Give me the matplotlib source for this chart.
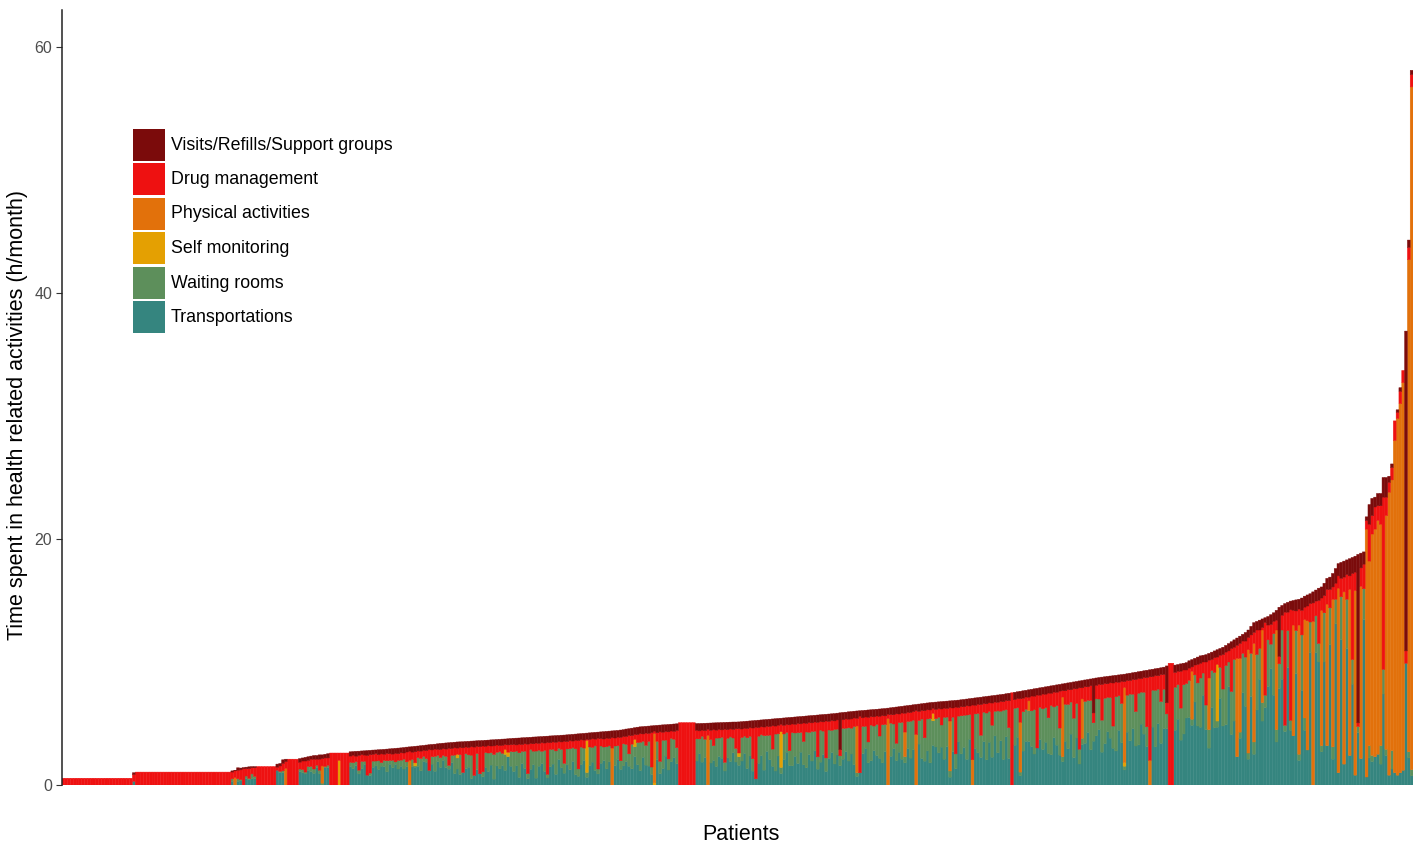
import matplotlib
matplotlib.use("Agg")
import matplotlib.pyplot as plt
from matplotlib.patches import Rectangle
import numpy as np

plt.rcParams['font.family'] = ['Liberation Sans', 'DejaVu Sans']

# one bar per patient, patients sorted by total time (h/month)
bar_total = [
    0.55, 0.55, 0.55, 0.55, 0.55, 0.55, 0.55, 0.55, 0.55, 0.55, 0.55, 0.55, 0.55, 0.55, 0.55, 0.55, 0.55, 0.55, 0.55, 0.55,
    0.55, 0.55, 0.55, 0.55, 0.55, 1.0, 1.05, 1.05, 1.05, 1.05, 1.05, 1.05, 1.05, 1.05, 1.05, 1.05, 1.05, 1.05, 1.05, 1.05,
    1.05, 1.05, 1.05, 1.05, 1.05, 1.05, 1.05, 1.05, 1.05, 1.05, 1.05, 1.05, 1.05, 1.05, 1.05, 1.05, 1.05, 1.05, 1.05, 1.05,
    1.15, 1.2, 1.4, 1.38, 1.42, 1.45, 1.48, 1.5, 1.5, 1.5, 1.5, 1.5, 1.5, 1.5, 1.5, 1.5, 1.7, 1.75, 2.05, 2.1,
    2.1, 2.1, 2.1, 2.1, 2.15, 2.2, 2.25, 2.3, 2.35, 2.4, 2.4, 2.45, 2.45, 2.5, 2.55, 2.6, 2.6, 2.6, 2.6, 2.6,
    2.6, 2.6, 2.7, 2.72, 2.74, 2.75, 2.77, 2.78, 2.8, 2.82, 2.84, 2.85, 2.87, 2.88, 2.9, 2.92, 2.94, 2.96, 2.98, 3.0,
    3.02, 3.05, 3.08, 3.1, 3.12, 3.15, 3.17, 3.2, 3.22, 3.25, 3.28, 3.3, 3.32, 3.35, 3.38, 3.4, 3.42, 3.44, 3.46, 3.48,
    3.5, 3.51, 3.52, 3.54, 3.55, 3.57, 3.58, 3.6, 3.61, 3.62, 3.64, 3.65, 3.67, 3.68, 3.7, 3.71, 3.73, 3.74, 3.76, 3.78,
    3.8, 3.81, 3.82, 3.84, 3.85, 3.87, 3.88, 3.9, 3.91, 3.93, 3.94, 3.96, 3.97, 3.99, 4.0, 4.02, 4.03, 4.05, 4.06, 4.08,
    4.1, 4.12, 4.14, 4.16, 4.18, 4.2, 4.22, 4.24, 4.26, 4.28, 4.3, 4.32, 4.34, 4.36, 4.38, 4.4, 4.42, 4.44, 4.47, 4.5,
    4.55, 4.58, 4.62, 4.66, 4.7, 4.73, 4.75, 4.77, 4.79, 4.81, 4.83, 4.85, 4.87, 4.89, 4.9, 4.92, 4.94, 4.96, 4.98, 5.07,
    5.07, 5.07, 5.07, 5.07, 5.07, 5.0, 5.0, 5.01, 5.02, 5.03, 5.04, 5.05, 5.06, 5.07, 5.08, 5.09, 5.1, 5.11, 5.12, 5.12,
    5.13, 5.15, 5.17, 5.19, 5.21, 5.23, 5.25, 5.27, 5.29, 5.31, 5.33, 5.35, 5.37, 5.39, 5.41, 5.43, 5.45, 5.47, 5.49, 5.51,
    5.53, 5.55, 5.57, 5.59, 5.61, 5.63, 5.65, 5.67, 5.69, 5.71, 5.73, 5.75, 5.77, 5.79, 5.81, 5.84, 5.87, 5.9, 5.92, 5.95,
    5.97, 6.0, 6.02, 6.04, 6.06, 6.08, 6.1, 6.12, 6.14, 6.16, 6.18, 6.2, 6.22, 6.25, 6.28, 6.31, 6.34, 6.37, 6.4, 6.43,
    6.46, 6.49, 6.52, 6.55, 6.58, 6.61, 6.64, 6.67, 6.7, 6.72, 6.74, 6.76, 6.78, 6.8, 6.82, 6.84, 6.86, 6.88, 6.9, 6.93,
    6.96, 6.99, 7.02, 7.05, 7.08, 7.11, 7.14, 7.17, 7.2, 7.23, 7.26, 7.29, 7.32, 7.35, 7.38, 7.42, 7.46, 7.5, 7.54, 7.58,
    7.62, 7.66, 7.7, 7.74, 7.78, 7.82, 7.86, 7.9, 7.94, 7.98, 8.02, 8.06, 8.1, 8.14, 8.18, 8.22, 8.26, 8.3, 8.34, 8.38,
    8.42, 8.46, 8.5, 8.54, 8.58, 8.62, 8.66, 8.7, 8.74, 8.77, 8.8, 8.83, 8.86, 8.89, 8.92, 8.95, 8.98, 9.01, 9.05, 9.09,
    9.13, 9.17, 9.21, 9.25, 9.29, 9.33, 9.37, 9.41, 9.45, 9.49, 9.53, 9.58, 9.68, 9.9, 9.9, 9.75, 9.8, 9.85, 9.9, 9.95,
    10.1, 10.2, 10.3, 10.4, 10.5, 10.55, 10.6, 10.7, 10.8, 10.9, 11.0, 11.1, 11.2, 11.35, 11.5, 11.65, 11.8, 11.95, 12.1, 12.25,
    12.4, 12.6, 12.9, 13.2, 13.3, 13.4, 13.5, 13.6, 13.7, 13.85, 14.0, 14.2, 14.45, 14.6, 14.75, 14.85, 14.95, 15.0, 15.05, 15.1,
    15.2, 15.35, 15.45, 15.55, 15.7, 15.85, 16.0, 16.1, 16.4, 16.8, 16.9, 17.2, 17.6, 18.0, 18.1, 18.2, 18.3, 18.4, 18.5, 18.6,
    18.75, 18.85, 18.95, 21.8, 22.8, 23.3, 23.4, 23.7, 23.7, 25.0, 25.0, 25.1, 26.1, 29.6, 30.5, 32.3, 33.7, 36.9, 44.3, 58.1,
]

visits = [
    0, 0, 0, 0, 0, 0, 0, 0, 0, 0, 0, 0, 0, 0, 0, 0, 0, 0, 0, 0,
    0, 0, 0, 0, 0, 0.15, 0, 0, 0, 0, 0, 0, 0, 0, 0, 0, 0, 0, 0, 0,
    0, 0, 0, 0, 0, 0, 0, 0, 0, 0, 0, 0, 0, 0, 0, 0, 0, 0, 0, 0,
    0.1, 0.05, 0.2, 0.15, 0.1, 0.12, 0.15, 0.1, 0.1, 0, 0, 0, 0, 0, 0, 0, 0.25, 0.2, 0.3, 0.2,
    0, 0, 0, 0, 0.3, 0.25, 0.3, 0.3, 0.25, 0.3, 0.3, 0.35, 0.3, 0.3, 0.35, 0, 0, 0, 0, 0,
    0, 0, 0.35, 0.3, 0.4, 0.35, 0.3, 0.35, 0.4, 0.35, 0.35, 0.3, 0.4, 0.35, 0.4, 0.35, 0.4, 0.45, 0.4, 0.45,
    0.4, 0.45, 0.4, 0.35, 0.45, 0.45, 0.4, 0.45, 0.4, 0.45, 0.4, 0.45, 0.4, 0.45, 0.5, 0.45, 0.5, 0.45, 0.5, 0.45,
    0.5, 0.45, 0.5, 0.45, 0.5, 0.45, 0.5, 0.45, 0.5, 0.45, 0.5, 0.45, 0.5, 0.5, 0.45, 0.5, 0.5, 0.45, 0.5, 0.5,
    0.5, 0.55, 0.5, 0.55, 0.5, 0.55, 0.5, 0.55, 0.5, 0.55, 0.5, 0.55, 0.5, 0.55, 0.5, 0.55, 0.5, 0.55, 0.5, 0.55,
    0.5, 0.55, 0.5, 0.55, 0.5, 0.55, 0.5, 0.55, 0.5, 0.55, 0.5, 0.55, 0.6, 0.55, 0.6, 0.55, 0.6, 0.55, 0.6, 0.55,
    0.6, 0.55, 0.6, 0.55, 0.6, 0.55, 0.6, 0.55, 0.6, 0.55, 0.45, 0.6, 0.55, 0.6, 0.55, 0.6, 0.55, 0.6, 0.55, 0,
    0, 0, 0, 0, 0, 0.55, 0.6, 0.55, 0.6, 0.5, 0.6, 0.55, 0.6, 0.55, 0.6, 0.55, 0.6, 0.55, 0.6, 0.55,
    0.55, 0.6, 0.55, 0.6, 0.55, 0.6, 0.55, 0.6, 0.55, 0.6, 0.55, 0.6, 0.55, 0.6, 0.55, 0.5, 0.6, 0.55, 0.6, 0.55,
    0.6, 0.55, 0.6, 0.55, 0.6, 0.55, 0.6, 0.55, 0.6, 0.55, 0.6, 0.55, 0.6, 0.55, 0.6, 0.55, 3.0, 0.6, 0.55, 0.6,
    0.6, 0.55, 0.6, 0.45, 0.6, 0.55, 0.6, 0.55, 0.6, 0.55, 0.6, 0.55, 0.6, 0.5, 0.55, 0.6, 0.55, 0.6, 0.55, 0.6,
    0.55, 0.6, 0.55, 0.5, 0.6, 0.55, 0.6, 0.55, 0.6, 0.5, 0.6, 0.55, 0.6, 0.55, 0.6, 0.55, 0.6, 0.55, 0.6, 0.55,
    0.6, 0.55, 0.6, 0.55, 0.6, 0.55, 0.6, 0.55, 0.6, 0.55, 0.6, 0.55, 0.6, 0.55, 0.6, 0.55, 0.6, 0, 0.6, 0.55,
    0.6, 0.6, 0.55, 0.6, 0.55, 0.6, 0.55, 0.6, 0.55, 0.6, 0.55, 0.6, 0.55, 0.6, 0.55, 0.55, 0.6, 0.55, 0.6, 0.55,
    0.6, 0.55, 0.6, 0.55, 0.6, 0.55, 2.8, 0.6, 0.55, 0.6, 0.55, 0.6, 0.55, 0.6, 0.55, 0.6, 0.55, 0.6, 0.55, 0.6,
    0.55, 0.6, 0.55, 0.6, 0.55, 0.6, 0.57, 0.6, 0.55, 0.6, 0.55, 0.6, 3.0, 0, 0, 0.6, 0.55, 0.6, 0.55, 0.6,
    0.6, 0.6, 0.55, 0.6, 0.6, 0.55, 0.6, 0.55, 0.6, 0.55, 0.6, 0.55, 0.6, 0.55, 0.6, 0.55, 0.6, 0.6, 0.6, 0.55,
    0.7, 0.6, 0.7, 0.8, 0.7, 0.8, 0.7, 0.4, 0.7, 0.8, 0.7, 0.8, 4.0, 0.8, 0.7, 0.8, 0.7, 0.8, 0.9, 0.8,
    1.0, 0.9, 0.9, 0.8, 0.9, 0.9, 1.0, 0.9, 1.0, 0.9, 1.0, 1.1, 1.2, 1.0, 1.3, 1.3, 1.2, 1.4, 1.3, 1.3,
    13.7, 1.2, 1.0, 0.3, 1.6, 1.4, 0.8, 1.0, 1.0, 1.6, 1.6, 0.5, 0.3, 0, 0.2, 0.3, 0, 26.0, 0.6, 0.35,
]

drug = [
    0.55, 0.55, 0.55, 0.55, 0.55, 0.55, 0.55, 0.55, 0.55, 0.55, 0.55, 0.55, 0.55, 0.55, 0.55, 0.55, 0.55, 0.55, 0.55, 0.55,
    0.55, 0.55, 0.55, 0.55, 0.55, 0.55, 1.05, 1.05, 1.05, 1.05, 1.05, 1.05, 1.05, 1.05, 1.05, 1.05, 1.05, 1.05, 1.05, 1.05,
    1.05, 1.05, 1.05, 1.05, 1.05, 1.05, 1.05, 1.05, 1.05, 1.05, 1.05, 1.05, 1.05, 1.05, 1.05, 1.05, 1.05, 1.05, 1.05, 1.05,
    0.55, 0.55, 0.7, 0.8, 1.32, 0.6, 0.8, 0.5, 0.7, 1.5, 1.5, 1.5, 1.5, 1.5, 1.5, 1.5, 0.25, 0.45, 0.6, 0.55,
    2.1, 2.1, 2.1, 2.1, 0.55, 0.7, 0.9, 0.5, 0.6, 0.8, 0.5, 0.9, 0.6, 0.7, 0.6, 2.6, 2.6, 2.6, 0.6, 2.6,
    2.6, 2.6, 0.5, 0.6, 0.45, 1.2, 0.55, 0.5, 1.6, 1.5, 0.55, 0.6, 0.5, 0.7, 0.5, 0.6, 0.55, 0.5, 0.7, 0.55,
    0.6, 0.5, 0.8, 0.75, 0.6, 0.9, 0.55, 0.6, 0.5, 0.65, 1.7, 0.55, 0.6, 0.5, 0.65, 0.55, 0.6, 1.4, 0.55, 0.6,
    0.5, 0.6, 2.0, 0.55, 0.6, 0.7, 2.3, 0.6, 2.2, 2.1, 0.5, 0.6, 0.55, 0.7, 0.6, 0.5, 0.65, 0.4, 0.6, 0.55,
    0.6, 0.5, 0.7, 0.55, 0.6, 2.4, 0.5, 0.6, 0.65, 0.55, 0.7, 0.6, 2.6, 0.55, 0.6, 0.7, 0.55, 0.6, 1.8, 0.6,
    0.65, 0.55, 0.7, 2.3, 0.6, 0.65, 0.1, 0.6, 0.7, 0.55, 2.5, 0.6, 0.65, 0.7, 0.6, 0.85, 0.65, 0.7, 1.9, 0.6,
    0.65, 1.5, 0.7, 0.4, 0.65, 0.7, 0.6, 1.0, 0.65, 2.8, 0.2, 0.7, 2.4, 0.65, 0.7, 2.2, 0.6, 0.65, 1.4, 5.07,
    5.07, 5.07, 5.07, 5.07, 5.07, 0.7, 0.65, 0.5, 0.7, 0.5, 0.75, 1.3, 0.65, 0.7, 0.6, 2.7, 0.7, 0.65, 0.7, 1.6,
    1.98, 0.7, 0.65, 0.75, 0.7, 2.5, 4.2, 0.7, 0.65, 0.7, 0.75, 0.7, 1.9, 0.65, 0.7, 0.6, 0.7, 0.65, 2.1, 0.7,
    0.7, 0.75, 0.7, 1.5, 0.7, 0.8, 0.7, 0.75, 2.8, 0.7, 0.75, 3.0, 0.7, 0.8, 0.7, 0.75, 0.5, 0.7, 0.75, 0.7,
    0.75, 0.7, 0.62, 4.6, 0.7, 0.75, 2.0, 0.7, 0.75, 0.7, 1.6, 0.75, 0.7, 0.35, 0.7, 0.75, 2.4, 0.7, 0.75, 1.53,
    0.75, 0.7, 0.7, 1.95, 0.75, 0.7, 2.2, 0.75, 0.7, 0.4, 0.75, 0.7, 1.3, 0.75, 0.7, 1.09, 0.75, 3.8, 0.7, 0.75,
    0.7, 0.75, 0.7, 4.45, 0.7, 0.75, 2.5, 0.7, 0.75, 0.7, 1.8, 0.75, 0.7, 0.8, 0.7, 0.75, 2.2, 7.5, 0.7, 0.75,
    1.92, 1.1, 1.0, 0.3, 1.2, 1.1, 4.3, 1.0, 1.2, 1.1, 2.0, 1.0, 1.2, 1.1, 3.0, 0.52, 1.1, 1.2, 1.0, 2.4,
    1.2, 5.0, 0.9, 1.2, 1.1, 1.2, 0.8, 1.1, 1.2, 2.9, 1.2, 1.1, 1.2, 3.5, 1.2, 1.1, 1.8, 0.48, 1.2, 1.1,
    1.2, 2.6, 1.2, 1.1, 1.2, 4.0, 6.8, 1.1, 1.2, 1.1, 2.2, 1.2, 0.9, 9.9, 9.9, 1.2, 1.1, 3.0, 1.2, 1.1,
    1.0, 0.35, 0.8, 1.5, 1.2, 0.9, 3.5, 1.45, 0.9, 1.2, 0.6, 1.0, 2.8, 1.1, 0.9, 3.5, 1.0, 1.05, 1.2, 1.0,
    1.3, 1.0, 1.5, 0.9, 2.0, 1.5, 0.2, 5.9, 1.2, 1.6, 1.0, 0.8, 0.6, 1.2, 9.2, 1.5, 9.0, 1.2, 1.6, 1.3,
    2.0, 1.0, 1.2, 1.5, 1.5, 1.2, 3.5, 1.0, 1.4, 1.2, 1.5, 1.0, 1.3, 1.0, 1.5, 1.2, 2.0, 1.1, 7.0, 1.5,
    0.3, 1.5, 2.0, 0.7, 3.0, 1.5, 1.8, 1.2, 1.5, 14.0, 1.5, 0.8, 1.0, 1.6, 0.5, 1.0, 1.0, 1.0, 1.0, 1.0,
]

physical = [
    0, 0, 0, 0, 0, 0, 0, 0, 0, 0, 0, 0, 0, 0, 0, 0, 0, 0, 0, 0,
    0, 0, 0, 0, 0, 0, 0, 0, 0, 0, 0, 0, 0, 0, 0, 0, 0, 0, 0, 0,
    0, 0, 0, 0, 0, 0, 0, 0, 0, 0, 0, 0, 0, 0, 0, 0, 0, 0, 0, 0,
    0, 0.6, 0, 0, 0, 0, 0, 0, 0, 0, 0, 0, 0, 0, 0, 0, 0, 0, 0, 1.35,
    0, 0, 0, 0, 0, 0, 0, 0, 0, 0, 0, 0, 1.4, 0, 0, 0, 0, 0, 0, 0,
    0, 0, 0, 0, 0, 0, 0, 0, 0, 0, 0, 0, 0, 0, 0, 0, 0, 0, 0, 0,
    0, 0, 0, 2.0, 0, 0, 0, 0, 0, 0, 0, 0, 0, 0, 0, 0, 0, 0, 0, 0,
    0, 0, 0, 0, 0, 0, 0, 0, 0, 0, 0, 0, 0, 0, 0, 0, 0, 0, 0, 0,
    0, 0, 0, 0, 0, 0, 0, 0, 0, 0, 0, 0, 0, 0, 0, 0, 0, 0, 0, 0,
    0, 0, 0, 0, 0, 0, 0, 0, 0, 0, 0, 0, 0, 0, 0, 3.0, 0, 0, 0, 0,
    0, 0, 0, 0, 0, 0, 0, 0, 0, 0, 4.0, 0, 0, 0, 0, 0, 0, 0, 0, 0,
    0, 0, 0, 0, 0, 0, 0, 0, 0, 4.02, 0, 0, 0, 0, 0, 0, 0, 0, 0, 0,
    0, 0, 0, 0, 0, 0, 0, 0, 0, 0, 0, 0, 0, 0, 0, 0, 0, 0, 0, 0,
    0, 0, 0, 0, 0, 0, 0, 0, 0, 0, 0, 0, 0, 0, 0, 0, 0, 0, 0, 0,
    0, 0, 3.8, 0, 0, 0, 0, 0, 0, 0, 0, 0, 0, 5.4, 0, 0, 0, 0, 0, 2.0,
    0, 0, 0, 4.1, 0, 0, 0, 0, 0, 0, 0, 0, 0, 0, 0, 4.06, 0, 0, 0, 0,
    0, 0, 0, 2.05, 0, 0, 0, 0, 0, 0, 0, 0, 0, 0, 0, 0, 0, 0, 0, 0,
    4.05, 0, 0, 0.8, 0, 0, 0, 0, 0, 0, 0, 0, 0, 0, 0, 4.85, 0, 0, 0, 0,
    0, 0, 3.2, 0, 0, 0, 0, 0, 0, 0, 0, 0, 0, 0, 0, 0, 0, 6.1, 0, 0,
    0, 0, 0, 0, 0, 0, 2.0, 0, 0, 0, 0, 0, 0, 0, 0, 0, 0, 0, 0, 0,
    0, 3.9, 0, 0, 0, 0, 0, 4.2, 0, 0, 0, 0, 0, 0, 0, 0, 0, 8.0, 6.0, 0,
    0, 8.4, 0, 8.0, 0, 0, 5.9, 0, 0, 0, 0, 8.1, 0, 0, 0, 0, 0, 9.0, 0, 10.5,
    0, 8.0, 10.5, 0, 13.3, 0, 0, 11.0, 0, 11.5, 0, 12.0, 0, 15.0, 0, 14.0, 0, 13.5, 0, 15.0,
    0, 14.0, 0, 20.15, 15.0, 18.0, 18.5, 19.0, 18.0, 0, 19.0, 23.0, 22.0, 27.0, 29.0, 30.0, 31.5, 0, 40.0, 55.5,
]

self_monitoring = [
    0, 0, 0, 0, 0, 0, 0, 0, 0, 0, 0, 0, 0, 0, 0, 0, 0, 0, 0, 0,
    0, 0, 0, 0, 0, 0, 0, 0, 0, 0, 0, 0, 0, 0, 0, 0, 0, 0, 0, 0,
    0, 0, 0, 0, 0, 0, 0, 0, 0, 0, 0, 0, 0, 0, 0, 0, 0, 0, 0, 0,
    0, 0, 0, 0, 0, 0, 0, 0, 0, 0, 0, 0, 0, 0, 0, 0, 0, 0, 0, 0,
    0, 0, 0, 0, 0, 0, 0, 0, 0, 0, 0, 0, 0, 0, 0, 0, 0, 0, 2.0, 0,
    0, 0, 0, 0, 0, 0, 0, 0, 0, 0, 0, 0, 0, 0, 0, 0, 0, 0, 0, 0,
    0, 0, 0, 0, 0, 0.25, 0, 0, 0, 0, 0, 0, 0, 0, 0, 0, 0, 0, 0, 0,
    0.3, 0, 0, 0, 0, 0, 0, 0, 0, 0, 0, 0, 0, 0, 0, 0, 0, 0.4, 0.35, 0,
    0, 0, 0, 0, 0, 0, 0, 0, 0, 0, 0, 0, 0, 0, 0, 0, 0, 0, 0, 0,
    0, 0, 0, 0, 0, 0, 2.6, 0, 0, 0, 0, 0, 0, 0, 0, 0, 0, 0, 0, 0,
    0, 0, 0, 0.6, 0, 0, 0, 0, 0, 0, 0.18, 0, 0, 0, 0, 0, 0, 0, 0, 0,
    0, 0, 0, 0, 0, 0, 0, 0, 0, 0, 0, 0, 0, 0, 0, 0, 0, 0, 0, 0,
    0.3, 0, 0, 0, 0, 0, 0, 0, 0, 0, 0, 0, 0, 0, 0, 2.9, 0, 0, 0, 0,
    0, 0, 0, 0, 0, 0, 0, 0, 0, 0, 0, 0, 0, 0, 0, 0, 0, 0, 0, 0,
    0, 0, 0, 0, 0, 0, 0, 0, 0, 0, 0, 0, 0, 0, 0, 0, 0, 0, 0, 0,
    0, 0, 0, 0, 0, 0, 0, 0, 0, 0.6, 0, 0, 0, 0, 0, 0, 0, 0, 0, 0,
    0, 0, 0, 0, 0, 0, 0, 0, 0, 0, 0, 0, 0, 0, 0, 0, 0, 0, 0, 0,
    0, 0, 0, 0, 0, 0, 0, 0, 0, 0, 0, 0, 0, 0, 0, 0, 0, 0, 0, 0,
    0, 0, 0, 0, 0, 0, 0, 0, 0, 0, 0, 0, 0, 0, 0, 0, 0, 0.3, 0, 0,
    0, 0, 0, 0, 0, 0, 0, 0, 0, 0, 0, 0, 0, 0, 0, 0, 0, 0, 0, 0,
    0, 0, 0, 0, 0, 0, 0, 0, 0, 0, 4.6, 0, 0, 0, 0, 0, 0, 0, 0, 0,
    0, 0, 0, 0, 0, 0, 0, 0, 0, 0, 0, 0, 0, 0, 0, 0, 0, 0, 0, 0,
    0, 0, 0, 0, 0, 0, 0, 0, 0, 0, 0, 0, 0, 0, 0, 0, 0, 0, 0, 0,
    0, 0, 0, 0, 0, 0, 0, 0, 0, 0, 0, 0, 0, 0, 0, 0, 0, 0, 0, 0,
]

waiting = [
    0, 0, 0, 0, 0, 0, 0, 0, 0, 0, 0, 0, 0, 0, 0, 0, 0, 0, 0, 0,
    0, 0, 0, 0, 0, 0, 0, 0, 0, 0, 0, 0, 0, 0, 0, 0, 0, 0, 0, 0,
    0, 0, 0, 0, 0, 0, 0, 0, 0, 0, 0, 0, 0, 0, 0, 0, 0, 0, 0, 0,
    0.2, 0, 0.2, 0.1, 0, 0.2, 0.1, 0.4, 0.2, 0, 0, 0, 0, 0, 0, 0, 0, 0.1, 0.15, 0,
    0, 0, 0, 0, 0.2, 0.25, 0.15, 0.3, 0.4, 0.35, 0.2, 0.3, 0.15, 0.1, 0.2, 0, 0, 0, 0, 0,
    0, 0, 0.35, 0.5, 0.3, 0.3, 0.6, 0.25, 0, 0.2, 0.5, 0.4, 0.7, 0.3, 0.5, 0.9, 0.3, 0.6, 0.2, 0.7,
    0.5, 0.8, 0.4, 0, 0.6, 0.1, 0.7, 1.0, 0.4, 0.3, 0, 0.6, 1.2, 0.5, 0.8, 0.4, 0.9, 0.3, 0.6, 1.5,
    0.9, 1.6, 0, 1.2, 1.0, 1.9, 0, 1.3, 0, 0.4, 1.2, 1.5, 1.0, 2.0, 1.1, 1.4, 1.0, 1.3, 0, 1.2,
    1.6, 1.2, 2.0, 1.0, 1.4, 0.4, 1.6, 1.1, 2.2, 1.3, 1.0, 1.7, 0.3, 1.4, 1.2, 1.9, 0.9, 1.5, 0.8, 1.3,
    1.7, 1.1, 2.1, 0.6, 1.4, 1.0, 0.4, 1.5, 1.2, 2.0, 0.4, 1.4, 1.1, 1.8, 1.3, 0, 1.6, 1.1, 0.7, 1.8,
    1.4, 1.0, 2.0, 0.8, 1.8, 2.3, 1.3, 1.6, 2.0, 0.6, 0, 1.5, 1.0, 2.3, 1.3, 0.9, 1.9, 1.5, 1.3, 0,
    0, 0, 0, 0, 0, 1.8, 1.2, 2.1, 1.5, 0, 1.9, 1.2, 2.3, 1.5, 1.7, 0.7, 1.6, 2.0, 1.2, 1.1,
    0.7, 1.9, 1.4, 2.5, 1.6, 1.0, 0, 2.2, 1.7, 2.8, 1.3, 2.0, 1.4, 3.0, 1.8, 0.5, 2.1, 1.6, 1.2, 2.7,
    1.9, 2.5, 1.6, 1.9, 2.9, 1.8, 2.4, 1.6, 1.0, 2.6, 1.9, 1.1, 2.3, 1.8, 2.8, 2.1, 0.8, 2.5, 1.9, 2.7,
    2.1, 3.1, 0.3, 0, 2.2, 1.8, 1.7, 2.9, 2.0, 2.5, 1.8, 3.1, 2.2, 0, 2.7, 2.0, 1.4, 2.4, 3.0, 0.5,
    2.2, 3.0, 2.4, 0, 1.9, 3.2, 1.9, 2.6, 3.6, 2.0, 2.3, 2.9, 1.8, 3.4, 2.4, 0.5, 2.8, 1.2, 2.1, 3.1,
    2.6, 3.6, 2.0, 0, 2.8, 3.2, 1.8, 2.4, 3.8, 2.5, 2.6, 2.0, 3.4, 2.4, 4.0, 2.2, 2.5, 0, 3.0, 2.4,
    0.3, 3.2, 2.6, 2.5, 2.9, 3.6, 0, 2.6, 3.3, 2.8, 2.9, 4.0, 2.5, 3.2, 2.2, 0.4, 3.0, 3.6, 2.6, 3.2,
    2.8, 1.2, 0.5, 3.4, 2.6, 4.0, 1.5, 3.0, 2.5, 2.6, 3.7, 2.8, 3.3, 1.8, 4.4, 2.8, 3.2, 0.3, 3.0, 3.8,
    2.8, 2.8, 4.2, 2.6, 3.4, 1.6, 0, 3.0, 4.6, 2.8, 3.4, 3.2, 1.2, 0, 0, 3.5, 2.8, 2.6, 4.0, 2.8,
    3.0, 0.5, 2.2, 3.5, 4.0, 1.8, 2.0, 1.5, 3.0, 4.5, 0.5, 2.5, 3.0, 4.8, 2.0, 3.5, 5.0, 0, 0.5, 3.2,
    4.0, 0.5, 3.5, 1.0, 4.5, 2.5, 1.5, 1.0, 3.8, 2.0, 5.0, 1.0, 2.0, 4.0, 0.5, 3.0, 0.8, 0, 3.5, 0.5,
    4.5, 1.0, 0, 2.5, 0, 3.0, 1.5, 0.5, 4.0, 0, 3.0, 1.0, 2.0, 0, 3.5, 0, 4.0, 0, 2.0, 0,
    0.5, 0, 2.5, 0, 1.0, 0.5, 0, 0, 1.5, 2.0, 0.5, 0, 1.5, 0, 0, 0, 0, 0, 0.5, 0.5,
]

labels = ["Transportations", "Waiting rooms", "Self monitoring",
          "Physical activities", "Drug management", "Visits/Refills/Support groups"]
colors = ["#35857F", "#5D8F5B", "#E4A002", "#E2710B", "#EE1111", "#7B0B0B"]

# transportation sits at the bottom: what is left under the other five layers
upper = np.array(waiting) + np.array(self_monitoring) + np.array(physical) + np.array(drug) + np.array(visits)
transport = np.clip(np.array(bar_total) - upper, 0, None)

layers = [transport, waiting, self_monitoring, physical, drug, visits]

W, H = 1421, 846
fig = plt.figure(figsize=(W / 100, H / 100), dpi=100)
ax = fig.add_axes([62 / W, 61 / H, 1351 / W, 775 / H])

x = np.arange(len(bar_total))
bottom = np.zeros(len(bar_total))
for vals, col in zip(layers, colors):
    vals = np.asarray(vals, dtype=float)
    keep = vals > 0
    # thin edge in the same colour, no snapping -> no hairline seams between bars
    ax.bar(x[keep], vals[keep], bottom=bottom[keep], width=1.0, color=col,
           edgecolor=col, linewidth=0.3, snap=False)
    bottom += vals

ax.set_xlim(-0.5, len(bar_total) - 0.5)
ax.set_ylim(0, 63)
ax.set_yticks([0, 20, 40, 60])
ax.set_xticks([])
for s in ["top", "right", "bottom"]:
    ax.spines[s].set_visible(False)
ax.spines["left"].set_color("#222222")
ax.spines["left"].set_linewidth(1.1)
ax.tick_params(axis="y", length=4, width=0.8, color="#333333", labelcolor="#4D4D4D",
               labelsize=11.5, pad=3)

fig.text(18 / W, 1 - 415 / H, "Time spent in health related activities (h/month)",
         rotation=90, ha="center", va="center", fontsize=15.5)
fig.text(741 / W, 1 - 834 / H, "Patients", ha="center", va="center", fontsize=15.5)

# legend keys drawn as squares, top entry first
for k, (col, lab) in enumerate(zip(colors[::-1], labels[::-1])):
    top = 129 + 34.5 * k
    fig.add_artist(Rectangle((133 / W, 1 - (top + 32) / H), 32 / W, 32 / H,
                             transform=fig.transFigure, facecolor=col, edgecolor="none"))
    fig.text(171 / W, 1 - (top + 16) / H, lab, ha="left", va="center", fontsize=12.8)

fig.savefig("out.png", dpi=100)
